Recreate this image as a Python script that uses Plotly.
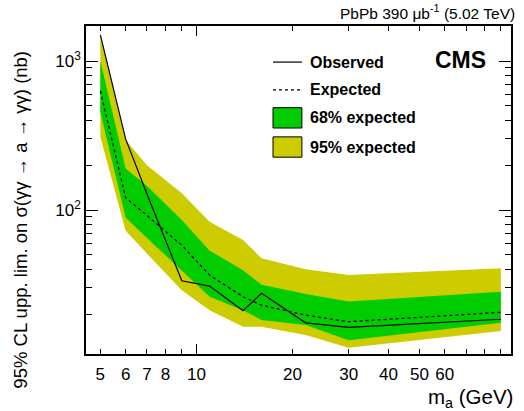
"""CMS light-by-light ALP search: 95% CL upper limits vs m_a (PbPb 5.02 TeV)."""

import plotly.graph_objects as go

# Data
MASS = [5, 6, 7, 9, 11, 14, 16, 22, 30, 90]
OBSERVED = [1500, 300, 128, 33.5, 30.9, 21.1, 27.6, 17.5, 16.3, 18.5]
EXPECTED = [630, 121, 92, 58, 36.6, 26.2, 23.0, 19.7, 17.8, 20.6]
BAND68_LO = [453, 89, 65, 39.5, 26.2, 21.3, 18.3, 16.9, 13.4, 17.5]
BAND68_HI = [1000, 190, 145, 85.8, 53.4, 39.5, 31.5, 27.3, 24.3, 28.3]
BAND95_LO = [310, 72.6, 51, 29.0, 21.3, 16.5, 16.5, 14.5, 11.9, 15.4]
BAND95_HI = [1480, 295, 200, 129.5, 83.5, 63.0, 47.4, 40.0, 36.6, 40.7]

X_LABELLED = [5, 6, 7, 8, 10, 20, 30, 40, 50, 60]
X_MINOR = [9, 70, 80, 90]
Y_MAJOR = [100, 1000]
Y_MAJOR_TEXT = ["10<sup>2</sup>", "10<sup>3</sup>"]
Y_MINOR = [20, 30, 40, 50, 60, 70, 80, 90, 200, 300, 400, 500, 600, 700, 800, 900]

LEGEND_NAMES = ["Observed", "Expected", "68% expected", "95% expected"]

COLORS = {
    "green": "#00cc00",
    "yellow": "#cccc00",
    "line": "black",
}
FONT = "Liberation Sans, Arial, sans-serif"

fig = go.Figure()

# 95% band
fig.add_trace(go.Scatter(x=MASS, y=BAND95_LO, mode="lines", line={"width": 0},
                         showlegend=False, hoverinfo="skip"))
fig.add_trace(go.Scatter(x=MASS, y=BAND95_HI, mode="lines", line={"width": 0},
                         fill="tonexty", fillcolor=COLORS["yellow"],
                         showlegend=False, hoverinfo="skip"))
# 68% band
fig.add_trace(go.Scatter(x=MASS, y=BAND68_LO, mode="lines", line={"width": 0},
                         showlegend=False, hoverinfo="skip"))
fig.add_trace(go.Scatter(x=MASS, y=BAND68_HI, mode="lines", line={"width": 0},
                         fill="tonexty", fillcolor=COLORS["green"],
                         showlegend=False, hoverinfo="skip"))
# expected / observed
fig.add_trace(go.Scatter(x=MASS, y=EXPECTED, mode="lines",
                         line={"color": COLORS["line"], "width": 1.3, "dash": "3px,3px"},
                         showlegend=False))
fig.add_trace(go.Scatter(x=MASS, y=OBSERVED, mode="lines",
                         line={"color": COLORS["line"], "width": 1.2},
                         showlegend=False))
# dummy trace so the overlay axis (long tick at 10) gets drawn
fig.add_trace(go.Scatter(x=[10], y=[100], xaxis="x2", mode="markers",
                         marker={"opacity": 0}, showlegend=False, hoverinfo="skip"))

axis_common = {
    "type": "log",
    "showgrid": False,
    "zeroline": False,
    "showline": True,
    "linecolor": "black",
    "linewidth": 1.5,
    "mirror": "ticks",
    "ticks": "inside",
    "tickcolor": "black",
    "tickwidth": 1.3,
    "tickfont": {"family": FONT, "size": 17, "color": "black"},
}

fig.update_layout(
    width=524,
    height=411,
    margin={"l": 86, "r": 13, "t": 26, "b": 57},
    paper_bgcolor="white",
    plot_bgcolor="white",
    font={"family": FONT, "color": "black"},
    showlegend=False,
    xaxis={
        **axis_common,
        "range": [0.654, 1.986],
        "tickmode": "array",
        "tickvals": X_LABELLED,
        "ticktext": [str(v) for v in X_LABELLED],
        "ticklen": 5,
        "ticklabelstandoff": 4,
        "minor": {"tickmode": "array", "tickvals": X_MINOR, "ticks": "inside",
                  "ticklen": 5, "tickcolor": "black", "tickwidth": 1.3},
    },
    xaxis2={
        "type": "log",
        "overlaying": "x",
        "anchor": "y",
        "side": "bottom",
        "range": [0.654, 1.986],
        "showgrid": False,
        "zeroline": False,
        "showline": False,
        "mirror": "ticks",
        "ticks": "inside",
        "tickmode": "array",
        "tickvals": [10],
        "ticklen": 10,
        "tickwidth": 1.3,
        "tickcolor": "black",
        "showticklabels": False,
    },
    yaxis={
        **axis_common,
        "range": [1.034, 3.235],
        "tickmode": "array",
        "tickvals": Y_MAJOR,
        "ticktext": Y_MAJOR_TEXT,
        "ticklen": 12,
        "minor": {"tickmode": "array", "tickvals": Y_MINOR, "ticks": "inside",
                  "ticklen": 6, "tickcolor": "black", "tickwidth": 1.3},
    },
)

# hand-made ROOT-style legend (paper coordinates)
legend_x0, legend_x1, legend_text_x = 0.44, 0.508, 0.522
legend_rows = [0.890, 0.805, 0.720, 0.631]
box_half = 0.031

shapes = [
    {"type": "line", "xref": "paper", "yref": "paper",
     "x0": legend_x0, "x1": legend_x1, "y0": legend_rows[0], "y1": legend_rows[0],
     "line": {"color": "black", "width": 1.2}},
    {"type": "line", "xref": "paper", "yref": "paper",
     "x0": legend_x0, "x1": legend_x1, "y0": legend_rows[1], "y1": legend_rows[1],
     "line": {"color": "black", "width": 1.2, "dash": "3px,3px"}},
]
for row, color in zip(legend_rows[2:], [COLORS["green"], COLORS["yellow"]]):
    shapes.append({"type": "rect", "xref": "paper", "yref": "paper",
                   "x0": legend_x0, "x1": legend_x1,
                   "y0": row - box_half, "y1": row + box_half,
                   "fillcolor": color, "line": {"color": "black", "width": 1}})
fig.update_layout(shapes=shapes)

annotations = [
    {"text": f"<b>{name}</b>", "x": legend_text_x, "y": row, "xref": "paper",
     "yref": "paper", "xanchor": "left", "yanchor": "middle", "showarrow": False,
     "font": {"size": 16, "family": FONT}}
    for name, row in zip(LEGEND_NAMES, legend_rows)
]
annotations += [
    {"text": "<b>CMS</b>", "x": 0.88, "y": 0.896, "xref": "paper", "yref": "paper",
     "xanchor": "center", "yanchor": "middle", "showarrow": False,
     "font": {"size": 23, "family": FONT}},
    {"text": "PbPb 390 \u03bcb<sup>-1</sup> (5.02 TeV)", "x": 1.014, "y": 1.043,
     "xref": "paper", "yref": "paper", "xanchor": "right", "yanchor": "middle",
     "showarrow": False, "font": {"size": 15.5, "family": FONT}},
    {"text": "m<sub>a</sub> (GeV)", "x": 1.01, "y": -0.134, "xref": "paper",
     "yref": "paper", "xanchor": "right", "yanchor": "middle", "showarrow": False,
     "font": {"size": 20.5, "family": FONT}},
    {"text": "95% CL upp. lim. on \u03c3(\u03b3\u03b3 \u2192 a \u2192 \u03b3\u03b3) (nb)",
     "x": -0.155, "y": 0.41, "xref": "paper", "yref": "paper", "textangle": -90,
     "xanchor": "center", "yanchor": "middle", "showarrow": False,
     "font": {"size": 18.5, "family": FONT}},
]
fig.update_layout(annotations=annotations)

# drop the default page margin so the 524x411 figure sits at the window origin
fig.write_html(
    "out.html",
    config={"displayModeBar": False},
    post_script="document.body.style.margin = '0';",
)
